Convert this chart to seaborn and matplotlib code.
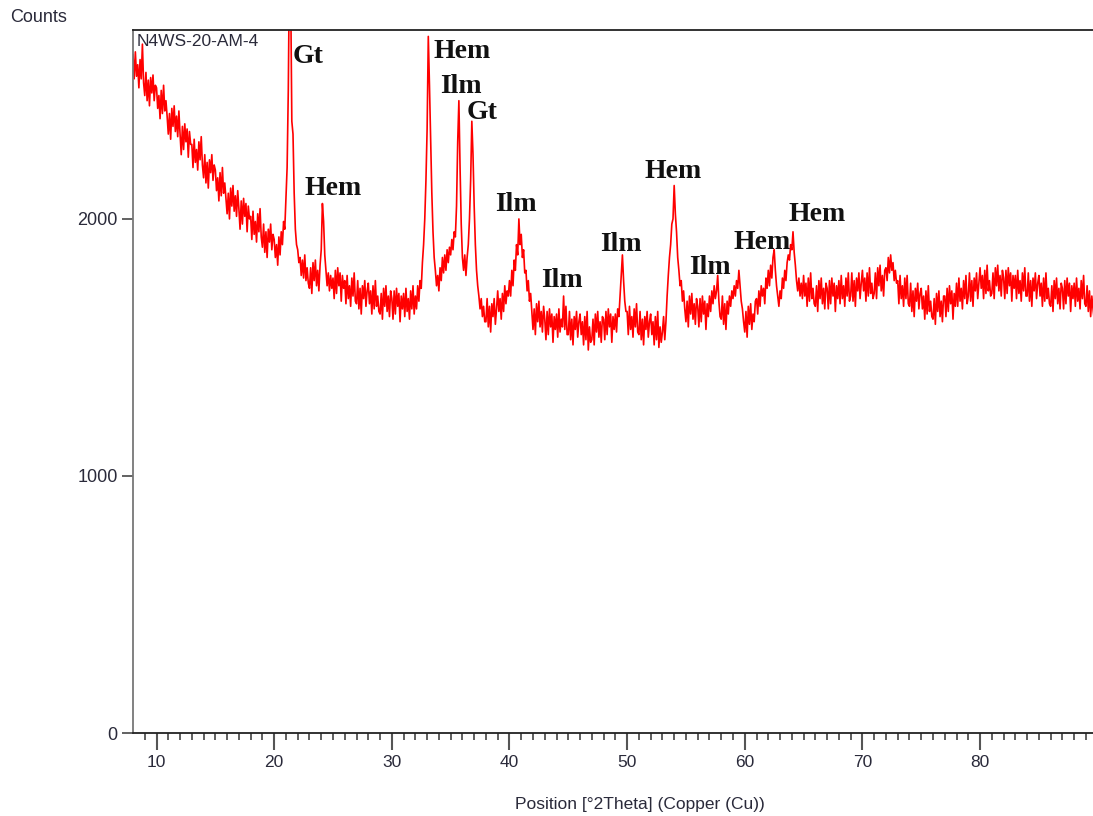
import numpy as np
import pandas as pd
import matplotlib
matplotlib.use("Agg")
import matplotlib.pyplot as plt
import seaborn as sns

# XRD scan settings (regular step grid)
start_2theta = 8.0
step_2theta = 0.1

# counts, 10 points per degree
counts = [
    2640, 2545, 2650, 2555, 2600, 2510, 2620, 2545, 2680, 2530,  # 8
    2480, 2570, 2460, 2540, 2440, 2550, 2490, 2560, 2460, 2520,  # 9
    2510, 2430, 2480, 2390, 2500, 2410, 2520, 2420, 2460, 2400,  # 10
    2330, 2410, 2310, 2430, 2360, 2440, 2340, 2400, 2320, 2420,  # 11
    2330, 2250, 2360, 2270, 2370, 2300, 2350, 2240, 2340, 2290,  # 12
    2290, 2200, 2310, 2220, 2270, 2190, 2300, 2230, 2320, 2210,  # 13
    2160, 2250, 2140, 2220, 2120, 2230, 2180, 2250, 2150, 2210,  # 14
    2190, 2110, 2160, 2070, 2180, 2090, 2200, 2100, 2140, 2080,  # 15
    2020, 2100, 2000, 2120, 2050, 2130, 2030, 2090, 2010, 2110,  # 16
    2040, 1960, 2070, 1980, 2080, 2010, 2060, 1950, 2050, 2000,  # 17
    2010, 1920, 2030, 1940, 1990, 1910, 2020, 1950, 2040, 1930,  # 18
    1890, 1980, 1870, 1950, 1850, 1960, 1910, 1980, 1880, 1940,  # 19
    1920, 1850, 1900, 1820, 1930, 1860, 1950, 1900, 1990, 1960,  # 20
    2080, 2200, 2500, 3000, 2900, 2380, 2330, 2100, 1960, 1900,  # 21
    1880, 1830, 1850, 1780, 1840, 1770, 1860, 1760, 1810, 1750,  # 22
    1730, 1810, 1710, 1830, 1760, 1840, 1740, 1800, 1720, 1820,  # 23
    1880, 2060, 1990, 1860, 1800, 1740, 1790, 1720, 1780, 1730,  # 24
    1770, 1690, 1800, 1710, 1810, 1740, 1790, 1680, 1780, 1730,  # 25
    1760, 1670, 1780, 1690, 1740, 1660, 1770, 1700, 1790, 1680,  # 26
    1670, 1760, 1650, 1730, 1630, 1740, 1690, 1760, 1660, 1720,  # 27
    1750, 1670, 1720, 1630, 1740, 1650, 1760, 1660, 1700, 1640,  # 28
    1630, 1710, 1610, 1730, 1660, 1740, 1640, 1700, 1620, 1720,  # 29
    1690, 1610, 1720, 1630, 1730, 1660, 1710, 1600, 1700, 1650,  # 30
    1710, 1620, 1730, 1640, 1690, 1610, 1720, 1650, 1740, 1630,  # 31
    1700, 1650, 1740, 1680, 1760, 1730, 1830, 1900, 2000, 2150,  # 32
    2350, 2710, 2520, 2300, 2100, 1950, 1850, 1800, 1740, 1780,  # 33
    1720, 1810, 1760, 1850, 1790, 1860, 1800, 1880, 1830, 1890,  # 34
    1860, 1920, 1880, 1950, 1930, 2050, 2300, 2460, 2200, 1980,  # 35
    1850, 1800, 1860, 1780, 1850, 1900, 2000, 2150, 2380, 2250,  # 36
    2050, 1900, 1800, 1740, 1700, 1650, 1690, 1620, 1660, 1600,  # 37
    1600, 1690, 1580, 1660, 1560, 1670, 1620, 1690, 1590, 1650,  # 38
    1720, 1640, 1690, 1610, 1710, 1640, 1740, 1670, 1720, 1700,  # 39
    1760, 1700, 1800, 1740, 1840, 1800, 1900, 1860, 2000, 1900,  # 40
    1940, 1850, 1880, 1790, 1800, 1720, 1760, 1680, 1710, 1640,  # 41
    1570, 1650, 1550, 1670, 1600, 1680, 1580, 1640, 1560, 1660,  # 42
    1610, 1530, 1640, 1550, 1650, 1580, 1630, 1520, 1620, 1570,  # 43
    1630, 1540, 1650, 1560, 1610, 1580, 1700, 1570, 1660, 1550,  # 44
    1550, 1640, 1530, 1610, 1510, 1620, 1570, 1640, 1540, 1600,  # 45
    1630, 1550, 1600, 1510, 1620, 1530, 1640, 1490, 1580, 1520,  # 46
    1530, 1610, 1510, 1630, 1560, 1640, 1540, 1600, 1520, 1620,  # 47
    1610, 1530, 1640, 1550, 1650, 1580, 1630, 1520, 1620, 1570,  # 48
    1630, 1560, 1650, 1620, 1700, 1780, 1860, 1760, 1680, 1640,  # 49
    1640, 1550, 1660, 1570, 1620, 1540, 1650, 1580, 1670, 1560,  # 50
    1550, 1640, 1530, 1610, 1510, 1620, 1570, 1640, 1540, 1600,  # 51
    1630, 1550, 1600, 1510, 1620, 1530, 1640, 1500, 1580, 1520,  # 52
    1560, 1620, 1530, 1600, 1700, 1780, 1850, 1900, 1980, 2000,  # 53
    2130, 2020, 1950, 1850, 1800, 1740, 1760, 1680, 1720, 1650,  # 54
    1600, 1680, 1580, 1700, 1630, 1710, 1610, 1670, 1590, 1690,  # 55
    1660, 1580, 1690, 1600, 1700, 1630, 1680, 1570, 1670, 1620,  # 56
    1700, 1640, 1720, 1670, 1740, 1690, 1720, 1780, 1680, 1620,  # 57
    1610, 1700, 1590, 1670, 1570, 1680, 1630, 1700, 1660, 1720,  # 58
    1690, 1740, 1700, 1760, 1730, 1800, 1740, 1680, 1650, 1600,  # 59
    1560, 1640, 1540, 1660, 1590, 1670, 1570, 1630, 1600, 1680,  # 60
    1690, 1630, 1720, 1660, 1740, 1700, 1730, 1670, 1770, 1730,  # 61
    1800, 1740, 1820, 1770, 1850, 1880, 1800, 1740, 1700, 1660,  # 62
    1720, 1690, 1770, 1730, 1800, 1760, 1830, 1860, 1840, 1900,  # 63
    1880, 1950, 1870, 1820, 1760, 1720, 1770, 1700, 1750, 1690,  # 64
    1780, 1700, 1750, 1660, 1770, 1680, 1790, 1690, 1730, 1670,  # 65
    1660, 1740, 1640, 1760, 1690, 1770, 1670, 1730, 1650, 1750,  # 66
    1730, 1650, 1760, 1670, 1770, 1700, 1750, 1640, 1740, 1690,  # 67
    1760, 1670, 1780, 1690, 1740, 1660, 1770, 1700, 1790, 1680,  # 68
    1700, 1790, 1680, 1760, 1660, 1770, 1720, 1790, 1690, 1750,  # 69
    1800, 1720, 1770, 1680, 1790, 1700, 1810, 1710, 1750, 1690,  # 70
    1710, 1790, 1690, 1810, 1740, 1820, 1720, 1780, 1700, 1800,  # 71
    1810, 1760, 1850, 1790, 1860, 1800, 1830, 1760, 1800, 1750,  # 72
    1760, 1670, 1780, 1690, 1740, 1660, 1770, 1690, 1780, 1670,  # 73
    1660, 1750, 1640, 1720, 1620, 1730, 1680, 1750, 1650, 1710,  # 74
    1730, 1650, 1700, 1610, 1720, 1630, 1740, 1640, 1680, 1620,  # 75
    1610, 1690, 1590, 1710, 1640, 1720, 1620, 1680, 1600, 1700,  # 76
    1700, 1620, 1730, 1640, 1740, 1670, 1720, 1610, 1710, 1660,  # 77
    1750, 1660, 1770, 1680, 1730, 1650, 1760, 1690, 1780, 1670,  # 78
    1700, 1790, 1680, 1760, 1660, 1770, 1720, 1790, 1690, 1750,  # 79
    1810, 1730, 1780, 1690, 1800, 1710, 1820, 1720, 1760, 1700,  # 80
    1710, 1790, 1690, 1810, 1740, 1820, 1720, 1780, 1700, 1800,  # 81
    1770, 1690, 1800, 1710, 1810, 1740, 1790, 1680, 1780, 1730,  # 82
    1780, 1690, 1800, 1710, 1760, 1680, 1790, 1720, 1810, 1700,  # 83
    1700, 1790, 1680, 1760, 1660, 1770, 1720, 1790, 1690, 1750,  # 84
    1780, 1700, 1750, 1660, 1770, 1680, 1790, 1690, 1730, 1670,  # 85
    1660, 1740, 1640, 1760, 1690, 1770, 1670, 1730, 1650, 1750,  # 86
    1730, 1650, 1760, 1670, 1770, 1700, 1750, 1640, 1740, 1690,  # 87
    1750, 1660, 1770, 1680, 1730, 1650, 1760, 1690, 1780, 1670,  # 88
    1660, 1740, 1640, 1720, 1620, 1700, 1650, 1610, 1640, 1600,  # 89
]

# phase labels and where they sit (2theta, counts)
peak_labels = ["Gt", "Hem", "Hem", "Ilm", "Gt", "Ilm", "Ilm", "Ilm", "Hem", "Ilm", "Hem", "Hem"]
label_x = [21.6, 22.6, 33.5, 34.1, 36.4, 38.8, 42.7, 47.7, 51.5, 55.3, 59.0, 63.7]
label_y = [2630, 2120, 2650, 2515, 2415, 2058, 1760, 1900, 2183, 1810, 1907, 2016]

sample_name = "N4WS-20-AM-4"

two_theta = np.round(start_2theta + step_2theta * np.arange(len(counts)), 2)
scan = pd.DataFrame({"two_theta": two_theta, "counts": counts})

sns.set_style("white")
plt.rcParams["font.family"] = ["Liberation Sans", "DejaVu Sans"]

fig = plt.figure(figsize=(10.93, 8.16), dpi=100)
ax = fig.add_axes([133 / 1093, 83 / 816, 1 - 133 / 1093, 703 / 816])

sns.lineplot(data=scan, x="two_theta", y="counts", color="#ff0000",
             linewidth=1.2, errorbar=None, sort=False, ax=ax)

ax.set_xlim(8, 89.6)
ax.set_ylim(0, 2735)

# axes frame like the diffractometer software
ax.spines["right"].set_visible(False)
ax.spines["top"].set_color("#222222")
ax.spines["bottom"].set_color("#222222")
ax.spines["left"].set_color("#777777")
for s in ["top", "bottom", "left"]:
    ax.spines[s].set_linewidth(1.3)

ax.set_xticks(range(10, 90, 10))
ax.set_xticks(range(9, 90), minor=True)
ax.set_yticks([0, 1000, 2000])
ax.tick_params(axis="x", which="major", bottom=True, direction="out", length=12,
               width=1.5, color="#555555", labelsize=12.5, labelcolor="#2a2a3a", pad=4)
ax.tick_params(axis="x", which="minor", bottom=True, direction="out", length=5,
               width=1.2, color="#444444")
ax.tick_params(axis="y", which="major", left=True, direction="out", length=8,
               width=1.3, color="#555555", labelsize=13, labelcolor="#2a2a3a", pad=3)
ax.set_xlabel("")
ax.set_ylabel("")
ax.grid(False)

# phase labels
for txt, px, py in zip(peak_labels, label_x, label_y):
    ax.text(px, py, txt, ha="left", va="center", fontsize=20, fontweight="bold",
            family=["Liberation Serif", "DejaVu Serif"], color="#111111")

ax.text(0.004, 0.983, sample_name, transform=ax.transAxes, ha="left", va="center",
        fontsize=12.5, color="#2a2a3a")

fig.text(10 / 1093, 1 - 18 / 816, "Counts", ha="left", va="center",
         fontsize=13, color="#2a2a3a")
fig.text(640 / 1093, 1 - 805 / 816, "Position [°2Theta] (Copper (Cu))",
         ha="center", va="center", fontsize=12.5, color="#2a2a3a")

fig.savefig("out.png", dpi=100)
